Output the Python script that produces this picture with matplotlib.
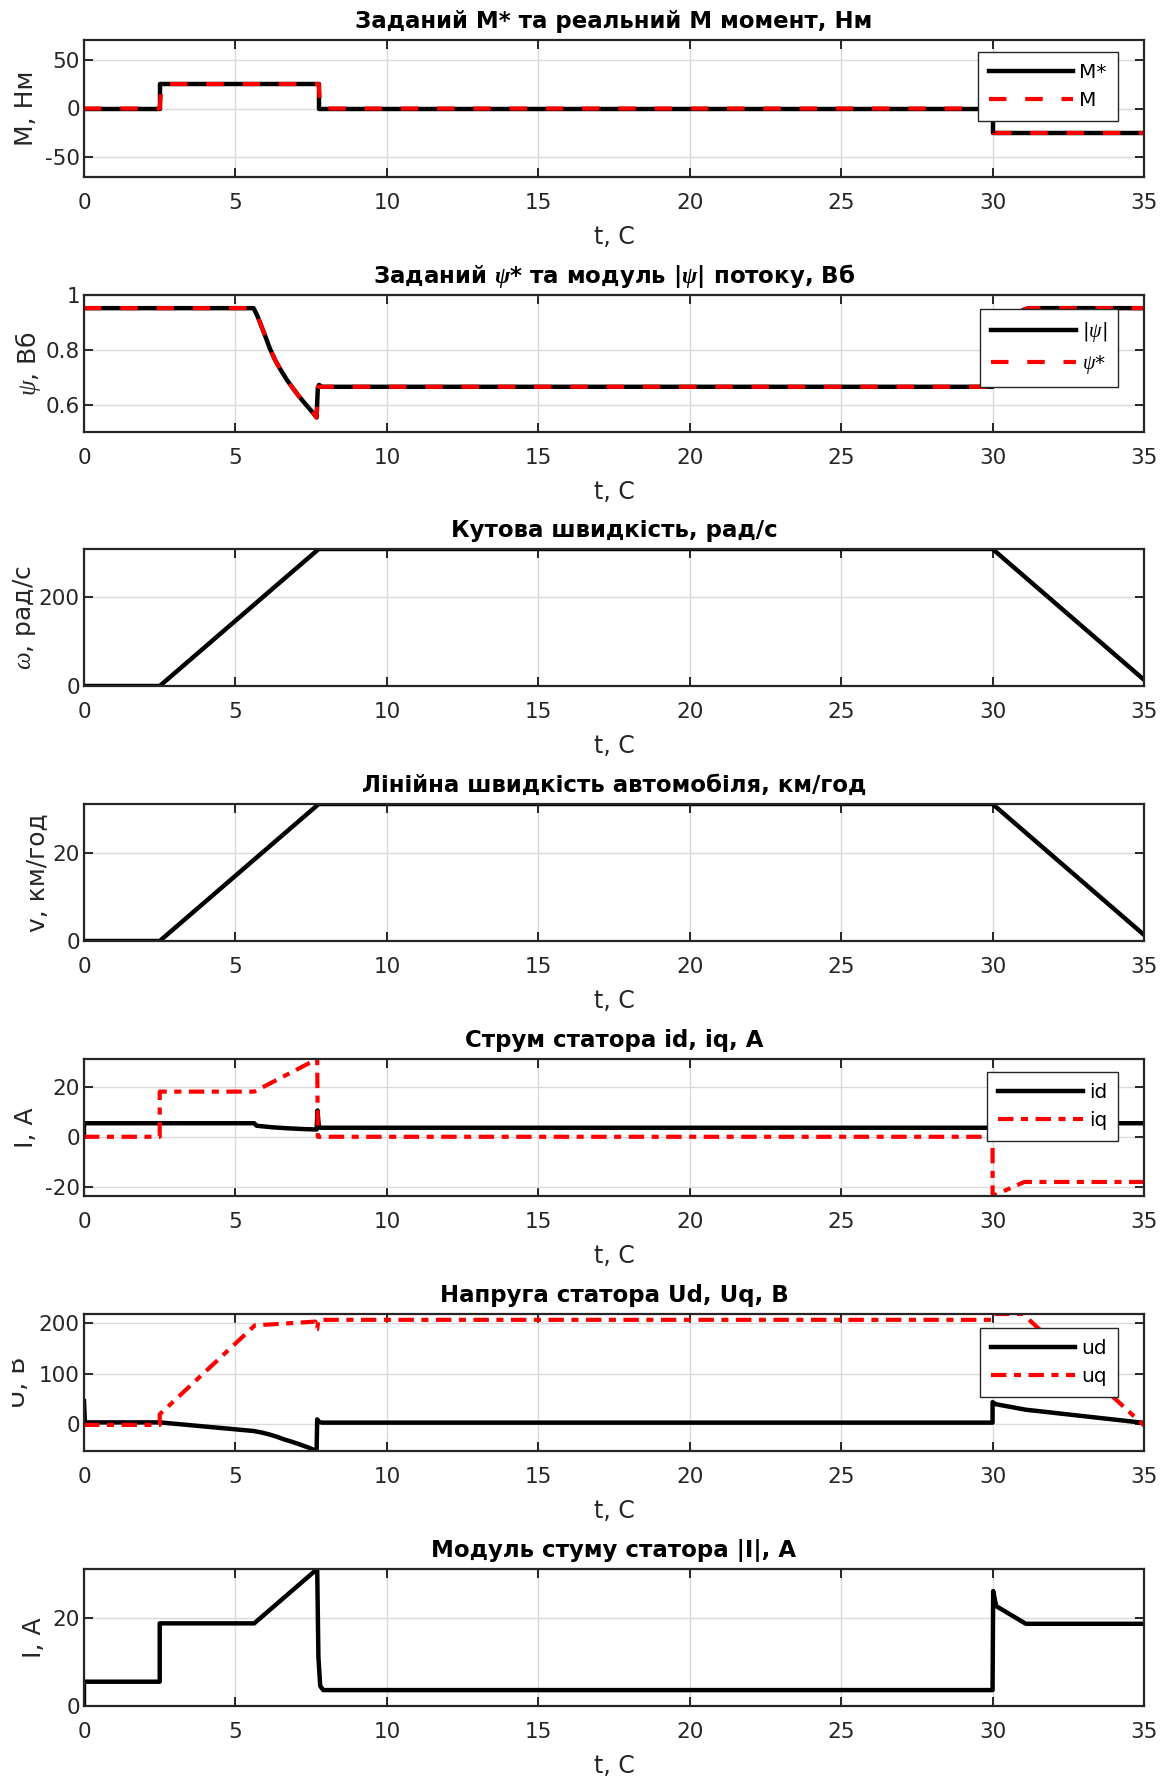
import numpy as np
import matplotlib.pyplot as plt
from matplotlib.ticker import FormatStrFormatter
from matplotlib.transforms import Bbox, TransformedBbox

plt.rcParams['font.family'] = ['DejaVu Sans']
plt.rcParams['mathtext.fontset'] = 'custom'
plt.rcParams['mathtext.rm'] = 'DejaVu Sans'
plt.rcParams['mathtext.it'] = 'Liberation Serif:italic'
plt.rcParams['mathtext.bf'] = 'Liberation Serif:bold:italic'
plt.rcParams['axes.unicode_minus'] = False

# момент, Нм
t_m_ref = [0, 2.5, 2.5, 7.75, 7.75, 30.0, 30.0, 35]
m_ref = [0, 0, 25, 25, 0, 0, -25, -25]
t_m = [0, 2.5, 2.56, 7.75, 7.8, 30.0, 30.05, 35]
m_act = [0, 0, 25, 25, 0, 0, -25, -25]

# потокозчеплення, Вб
t_psi = [0, 5.6, 5.7, 5.81, 5.95, 6.14, 6.3, 6.47, 6.7, 6.91, 7.1, 7.35, 7.5, 7.68,
         7.72, 7.76, 7.85, 30.0, 30.02, 30.5, 31.0, 31.2, 35]
psi_abs = [0.952, 0.952, 0.93, 0.90, 0.86, 0.804, 0.765, 0.731, 0.69, 0.658, 0.63, 0.597, 0.578, 0.553,
           0.66, 0.672, 0.665, 0.665, 0.73, 0.88, 0.945, 0.952, 0.952]
t_psi_ref = [0, 5.6, 5.7, 5.81, 5.95, 6.14, 6.3, 6.47, 6.7, 6.91, 7.1, 7.35, 7.5, 7.68,
             7.72, 30.0, 30.02, 30.5, 31.0, 31.2, 35]
psi_ref = [0.952, 0.952, 0.93, 0.90, 0.86, 0.804, 0.765, 0.731, 0.69, 0.658, 0.63, 0.597, 0.578, 0.553,
           0.665, 0.665, 0.73, 0.88, 0.945, 0.952, 0.952]

# швидкість
t_w = [0, 2.5, 7.75, 30.0, 35]
w = [0, 0, 308, 308, 14]
v = [0, 0, 31.2, 31.2, 1.4]

# струми id, iq
t_id = [0, 0, 5.62, 5.7, 6.2, 6.7, 7.2, 7.68, 7.71, 7.75, 7.8, 30.0, 31.1, 35]
i_d = [0, 5.4, 5.4, 4.4, 3.8, 3.4, 3.1, 2.9, 10.5, 4.5, 3.6, 3.6, 5.4, 5.4]
t_iq = [0, 2.5, 2.5, 5.62, 7.7, 7.72, 30.0, 30.0, 31.05, 35]
i_q = [0, 0, 18, 18, 31, 0, 0, -23.6, -18, -18]

# напруги ud, uq
t_ud = [0, 0.03, 2.5, 5.6, 5.85, 6.1, 6.35, 6.6, 6.85, 7.1, 7.4, 7.68, 7.7, 7.76, 7.85,
        30.0, 30.0, 30.1, 31.1, 35]
u_d = [46, 4, 4, -13, -15.8, -19.5, -24, -29.5, -34, -39, -45.5, -52.5, 10, 5, 3.5,
       3.5, 44, 40, 29, 3]
t_uq = [0, 2.5, 2.5, 5.64, 7.64, 7.68, 7.7, 7.74, 30.0, 30.05, 31.0, 35]
u_q = [-1, -1, 20, 195.5, 203, 188, 188, 206.5, 206.5, 218, 218, -2]

# модуль струму статора
t_is = [0, 0, 2.5, 2.5, 5.62, 7.7, 7.74, 7.8, 7.9, 30.0, 30.02, 30.12, 31.1, 35]
i_s = [0, 5.5, 5.5, 18.7, 18.7, 31, 11, 4.5, 3.6, 3.6, 26, 22.6, 18.6, 18.6]

titles = ['Заданий M* та реальний M момент, Нм',
          r'Заданий $\mathbf{\psi}$* та модуль |$\mathbf{\psi}$| потоку, Вб',
          'Кутова швидкість, рад/с',
          'Лінійна швидкість автомобіля, км/год',
          'Струм статора id, iq, A',
          'Напруга статора Ud, Uq, B',
          'Модуль стуму статора |I|, A']
ylabels = ['M, Нм', r'$\psi$, Вб', r'$\omega$, рад/с', 'v, км/год', 'I, A', 'U, B', 'I, A']
ylab_x = [-0.043, -0.039, -0.043, -0.032, -0.043, -0.051, -0.036]

W, H = 1168, 1782
ax_left, ax_w, ax_h = 84, 1060, 137
tops = [40, 295, 549, 804, 1059, 1314, 1569]
TXT = '#262626'
RED = '#ff0000'
dash = (0, (4.2, 4.5))
dashdot = (0, (3.7, 1.8, 1.7, 1.8))

fig = plt.figure(figsize=(W / 100, H / 100), dpi=100)
axes = []
for top in tops:
    ax = fig.add_axes([ax_left / W, 1 - (top + ax_h) / H, ax_w / W, ax_h / H])
    axes.append(ax)

for i, ax in enumerate(axes):
    ax.set_xlim(0, 35)
    ax.set_xticks(np.arange(0, 36, 5))
    ax.grid(True, color='#dadada', lw=1.0)
    ax.set_axisbelow(True)
    ax.tick_params(direction='in', length=6.5, width=1.4, colors=TXT,
                   labelsize=15.5, top=True, right=True)
    ax.tick_params(axis='x', pad=11.5)
    ax.tick_params(axis='y', pad=3)
    for s in ax.spines.values():
        s.set_linewidth(1.6)
        s.set_color(TXT)
    ax.set_title(titles[i], fontsize=16.5, fontweight='bold', pad=8.5, color='black')
    ax.set_xlabel('t, C', fontsize=17, labelpad=8.5, color=TXT)
    ax.set_ylabel(ylabels[i], fontsize=18, color=TXT)
    ax.yaxis.set_label_coords(ylab_x[i], 0.5)
    ax.yaxis.set_major_formatter(FormatStrFormatter('%g'))


def add_legend(ax, handles, labels, y_anchor):
    leg = ax.legend(handles, labels, loc='upper right',
                    bbox_to_anchor=(0.9755, y_anchor), borderaxespad=0,
                    fontsize=14.5, handlelength=4.2, handletextpad=0.3,
                    borderpad=0.55, labelspacing=0.45, fancybox=False,
                    framealpha=1, edgecolor=TXT)
    leg.get_frame().set_linewidth(1.0)
    return leg


# 1: момент
ax = axes[0]
l1, = ax.plot(t_m_ref, m_ref, color='black', lw=3.2)
l2, = ax.plot(t_m, m_act, color=RED, lw=3, linestyle=dash)
ax.set_ylim(-70, 70)
ax.set_yticks([-50, 0, 50])
add_legend(ax, [l1, l2], ['M*', 'M'], 0.913)

# 2: потік
ax = axes[1]
l1, = ax.plot(t_psi, psi_abs, color='black', lw=3.2)
l2, = ax.plot(t_psi_ref, psi_ref, color=RED, lw=3, linestyle=dash)
ax.set_ylim(0.5, 1.0)
ax.set_yticks([0.6, 0.8, 1.0])
add_legend(ax, [l1, l2], [r'|$\psi$|', r'$\psi$*'], 0.896)

# 3: кутова швидкість
ax = axes[2]
ax.plot(t_w, w, color='black', lw=3.2)
ax.set_ylim(min(w), max(w))
ax.set_yticks([0, 200])

# 4: лінійна швидкість
ax = axes[3]
ax.plot(t_w, v, color='black', lw=3.2)
ax.set_ylim(min(v), max(v))
ax.set_yticks([0, 20])

# 5: струми id, iq
ax = axes[4]
l1, = ax.plot(t_id, i_d, color='black', lw=3.2)
l2, = ax.plot(t_iq, i_q, color=RED, lw=3, linestyle=dashdot)
ax.set_ylim(min(i_q), max(i_q))
ax.set_yticks([-20, 0, 20])
add_legend(ax, [l1, l2], ['id', 'iq'], 0.908)

# 6: напруги ud, uq
ax = axes[5]
l1, = ax.plot(t_ud, u_d, color='black', lw=3.2)
l2, = ax.plot(t_uq, u_q, color=RED, lw=3, linestyle=dashdot)
ax.set_ylim(min(u_d), max(u_q))
ax.set_yticks([0, 100, 200])
add_legend(ax, [l1, l2], ['ud', 'uq'], 0.898)
lab = ax.yaxis.label
lab.set_clip_box(TransformedBbox(Bbox([[12 / W, 0], [1, 1]]), fig.transFigure))
lab.set_clip_on(True)

# 7: модуль струму
ax = axes[6]
ax.plot(t_is, i_s, color='black', lw=3.2)
ax.set_ylim(min(i_s), max(i_s))
ax.set_yticks([0, 20])

fig.savefig('out.png', dpi=100)
